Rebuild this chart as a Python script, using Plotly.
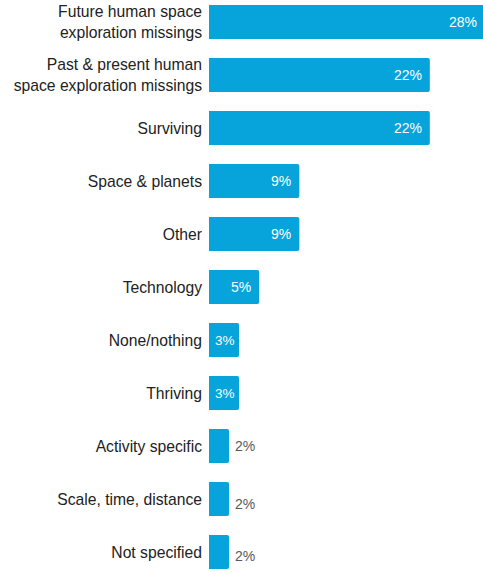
import plotly.graph_objects as go

categories = [
    "Future human space<br>exploration missings",
    "Past & present human<br>space exploration missings",
    "Surviving",
    "Space & planets",
    "Other",
    "Technology",
    "None/nothing",
    "Thriving",
    "Activity specific",
    "Scale, time, distance",
    "Not specified",
]
values = [28, 22, 22, 9, 9, 5, 3, 3, 2, 2, 2]
value_labels = [f"{v}%" for v in values]

BLUE = "#06A4DA"
X_MAX = 27.3
positions = list(range(len(categories)))

fig = go.Figure()
fig.add_trace(go.Bar(
    x=values,
    y=positions,
    orientation="h",
    width=0.64,
    marker=dict(color=BLUE, line=dict(width=0), cornerradius=2),
    hoverinfo="skip",
))

# value labels: white inside the wider bars, grey just past the narrow ones
label_yshift = [0, 0, 0, 0, 0, 0, 0, 0, 0, -5, -4]
for pos, val, lab, dy in zip(positions, values, value_labels, label_yshift):
    if val >= 4:
        fig.add_annotation(
            x=min(val, X_MAX), y=pos, xref="x", yref="y",
            text=lab, showarrow=False,
            xanchor="right", xshift=-6 if val < X_MAX else -4, yshift=dy,
            font=dict(family="Liberation Sans, Arial", size=14, color="white"),
        )
    elif val >= 3:
        # short bars: centre the label inside the bar
        fig.add_annotation(
            x=val / 2, y=pos, xref="x", yref="y",
            text=lab, showarrow=False,
            xanchor="center", xshift=1, yshift=dy,
            font=dict(family="Liberation Sans, Arial", size=13.5, color="white"),
        )
    else:
        fig.add_annotation(
            x=val, y=pos, xref="x", yref="y",
            text=lab, showarrow=False,
            xanchor="left", xshift=4, yshift=dy,
            font=dict(family="Liberation Sans, Arial", size=14, color="#595959"),
        )

fig.update_layout(
    width=483,
    height=572,
    margin=dict(l=209, r=0, t=0, b=0),
    paper_bgcolor="white",
    plot_bgcolor="white",
    showlegend=False,
    xaxis=dict(range=[0, X_MAX], visible=False, fixedrange=True),
    yaxis=dict(
        range=[10.377, -0.415],
        tickmode="array",
        tickvals=positions,
        ticktext=categories,
        tickfont=dict(family="Liberation Sans, Arial", size=15.7, color="#222222"),
        showgrid=False,
        zeroline=False,
        showline=False,
        ticks="",
        ticklabelstandoff=6,
        fixedrange=True,
    ),
)

fig.write_html("out.html")
